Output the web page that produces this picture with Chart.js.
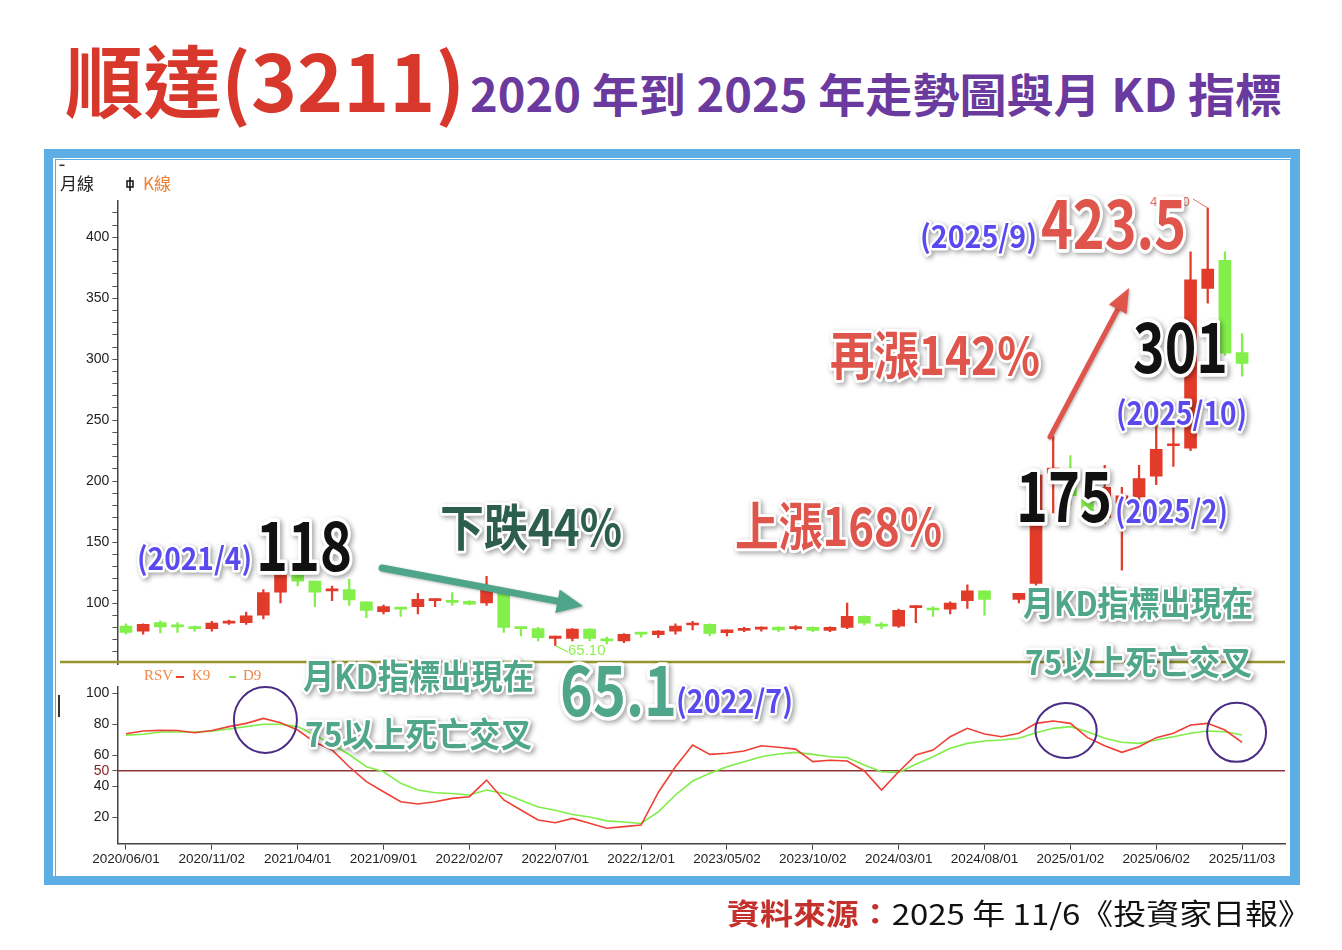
<!DOCTYPE html>
<html lang="zh-Hant">
<head>
<meta charset="utf-8">
<title>順達(3211) 2020 年到 2025 年走勢圖與月 KD 指標</title>
<script src="https://cdn.jsdelivr.net/npm/chart.js@4.4.1/dist/chart.umd.min.js"></script>
<style>
    html, body { margin: 0; padding: 0; background: #fff; }
    body { width: 1342px; height: 950px; position: relative; overflow: hidden; font-family: 'Noto Sans CJK TC', 'Noto Sans', sans-serif; }
    .txt { position: absolute; left: 0; top: 0; white-space: nowrap; line-height: 1; transform-origin: 0 0; }
    #title1 { font-size: 78px; font-weight: 700; color: #d8382b; }
    #title2 { font-size: 46px; font-weight: 700; color: #6b3a9e; }
    #source { font-size: 29px; font-weight: 400; color: #111; }
    #source b { color: #c4302b; font-weight: 700; }
    .frame { position: absolute; left: 44px; top: 149px; width: 1256px; height: 736px; box-sizing: border-box; border: 9px solid #5eaee6; }
    .frame-in { position: absolute; left: 54.5px; top: 158.5px; width: 1236px; height: 718px; box-sizing: border-box; border: 1.5px solid #5eaee6; }
    canvas { position: absolute; left: 0; top: 0; }
</style>
</head>
<body>
<div id="title1" class="txt">順達(3211)</div>
<div id="title2" class="txt">2020 年到 2025 年走勢圖與月 KD 指標</div>
<div class="frame"></div>
<div class="frame-in"></div>
<canvas id="priceCanvas" width="1342" height="950"></canvas>
<canvas id="kdCanvas" width="1342" height="950"></canvas>
<div id="source" class="txt"><b>資料來源：</b>2025 年 11/6《投資家日報》</div>

<script>
// 月K線 2020/06 ~ 2025/11 (66 months), 2024/09 not drawn in the source picture
const open  = [81, 77, 84, 81.5, 80, 79, 83.5, 84, 90, 109,
               123, 118, 110, 111, 101, 93, 95.6, 97, 102, 101.5,
               101.5, 100, 109, 80, 79, 71, 71, 78.6, 69.6, 69,
               75.6, 74, 77, 82, 82.5, 75.6, 77.6, 78.6, 80.3, 79,
               80, 77.5, 80, 89, 82.5, 81, 96.2, 95.6, 95, 102,
               110, null, 103, 116, 206.5, 210, 185, 170, 182, 187,
               204, 229, 227, 358, 381, 305.5];
const high  = [83, 83, 85.5, 84, 81, 85, 86, 92.5, 111, 126,
               126, 118, 114, 119.5, 101, 98.4, 96, 108, 103.5, 108.5,
               102, 122, 110, 80, 80, 73, 79, 79, 72, 75,
               76, 77.5, 83, 85, 83, 78, 80, 80.5, 80.5, 81.5,
               80.5, 80.5, 100, 89.5, 84, 95, 98, 97, 101, 115,
               110, null, 108, 210, 236.5, 221, 190, 213, 195, 213,
               247, 248, 388, 424, 388, 321];
const low   = [74.5, 74.5, 75.5, 76, 77, 77, 82.5, 82.5, 87, 100,
               114, 97, 102, 98, 88, 91, 89, 91, 97, 98,
               98.5, 98, 76, 73, 69, 65.1, 69, 69, 66.5, 67.5,
               72, 71.5, 74.5, 78, 73, 73, 76.5, 77, 76.5, 78,
               76.5, 76.5, 79, 82, 79, 80, 84, 89, 91, 95.5,
               90, null, 100, 113, 174, 180, 170, 165, 127, 184,
               197, 212, 225, 346, 303, 286];
const close = [76, 82.5, 80.5, 80.5, 79, 83.6, 84.7, 89.6, 108.5, 123,
               118, 109, 111, 102.5, 94, 97, 95, 103, 103, 100.5,
               99, 111, 80, 79, 71.5, 73, 78.6, 71, 69, 74.3,
               74.5, 77, 81, 83, 75, 78, 79.2, 80.3, 78, 80.5,
               77.5, 80, 89, 83.5, 81, 94, 97.5, 94.3, 100, 110,
               103, null, 108, 205, 210.6, 188, 175, 195, 188, 202,
               226, 230.5, 365, 374, 305, 296.5];

// 月KD (K9 紅, D9 綠)
const kLine = [73.9, 75.7, 76.1, 76, 74.6, 76, 78.5, 80.6, 83.8, 81,
               76.3, 68.4, 63.4, 52.6, 43, 36.5, 30, 28.6, 30, 32.2,
               33.3, 44, 31.2, 24.7, 18.3, 16.5, 19.3, 16.1, 12.9, 14,
               15, 36, 52.6, 66.6, 60.6, 61.3, 62.8, 66.2, 65.2, 64,
               55.9, 56.8, 56.3, 49.9, 37.6, 49.4, 60.2, 63.4, 72, 77.4,
               73.7, 72, 74.2, 80.6, 82.1, 80.6, 71.4, 66.2, 61.9, 65.5,
               71.4, 74.2, 79.5, 80.6, 76.3, 68.4];
const dLine = [73, 73.6, 75, 75, 75, 75.6, 77, 78.5, 80, 80,
               78.5, 73, 67, 60.5, 52.6, 49.4, 41.9, 37.6, 35.8, 35.4,
               34.4, 37.6, 35.4, 31, 26.7, 24.5, 21.8, 20.2, 17.7, 17,
               16, 23.5, 34.4, 43.4, 48.4, 52.6, 55.9, 59.1, 60.8, 61.9,
               60.6, 59.1, 58.5, 53.7, 49.4, 49, 54.2, 59.1, 64.5, 67.7,
               69.2, 69.9, 71, 74.6, 77.4, 78.5, 75.2, 71, 68.4, 67.7,
               69.9, 72, 74.2, 75.7, 75.2, 73.1];

const tickDates  = ['2020/06/01', '2020/11/02', '2021/04/01', '2021/09/01', '2022/02/07', '2022/07/01', '2022/12/01',
                    '2023/05/02', '2023/10/02', '2024/03/01', '2024/08/01', '2025/01/02', '2025/06/02', '2025/11/03'];
const priceTicks = [60, 70, 80, 90, 100, 110, 120, 130, 140, 150, 160, 170, 180, 190, 200, 210, 220, 230, 240, 250,
                    260, 270, 280, 290, 300, 310, 320, 330, 340, 350, 360, 370, 380, 390, 400, 410, 420];
const kdTicks    = [20, 40, 50, 60, 80, 100];
const kdMid      = 50;

const UP = '#e23b2a', DOWN = '#82ef4a';
const CJK = "'Noto Sans CJK TC', 'Noto Sans', sans-serif";
const AXISFONT = "'Liberation Sans', sans-serif";
const PURPLE = '#5a49ee', TEAL = '#4fa68b', RED = '#e0554b', INK = '#111', DKGREEN = '#2d5e4c';

const candleIdx = open.map((o, i) => i).filter(i => open[i] !== null);
const candleColor = ctx => (ctx.raw && close[ctx.raw.x] < open[ctx.raw.x]) ? DOWN : UP;

function placeText(id, left, baseline, width) {
    const el = document.getElementById(id);
    const probe = document.createElement('span');
    probe.style.cssText = 'display:inline-block;width:0;height:0;';
    el.appendChild(probe);
    el.style.left = left + 'px';
    const base = probe.getBoundingClientRect().top;
    el.style.top = (baseline - base) + 'px';
    const w = el.getBoundingClientRect().width;
    el.style.transform = `scaleX(${width / w})`;
}

function label(ctx, text, x1, x2, cy, size, color) {
    ctx.save();
    ctx.font = `bold ${size}px ${CJK}`;
    const w = ctx.measureText(text).width;
    ctx.translate(x1, cy);
    ctx.scale((x2 - x1) / w, 1);
    ctx.textBaseline = 'middle';
    ctx.lineJoin = 'round';
    ctx.shadowColor = 'rgba(0,0,0,0.38)';
    ctx.shadowBlur = 5; ctx.shadowOffsetX = 2; ctx.shadowOffsetY = 2;
    ctx.strokeStyle = '#fff';
    ctx.lineWidth = Math.max(5, size * 0.11);
    ctx.strokeText(text, 0, 0);
    ctx.shadowColor = 'transparent';
    ctx.fillStyle = color;
    ctx.fillText(text, 0, 0);
    ctx.restore();
}

function arrow(ctx, x1, y1, x2, y2, color, lw, headLen, headHalf) {
    const a = Math.atan2(y2 - y1, x2 - x1);
    const bx = x2 - headLen * Math.cos(a), by = y2 - headLen * Math.sin(a);
    ctx.save();
    ctx.shadowColor = 'rgba(0,0,0,0.3)'; ctx.shadowBlur = 3; ctx.shadowOffsetX = 1; ctx.shadowOffsetY = 1;
    ctx.strokeStyle = color; ctx.fillStyle = color; ctx.lineWidth = lw; ctx.lineCap = 'round';
    ctx.beginPath(); ctx.moveTo(x1, y1); ctx.lineTo(bx, by); ctx.stroke();
    ctx.beginPath();
    ctx.moveTo(x2, y2);
    ctx.lineTo(bx + headHalf * Math.sin(a), by - headHalf * Math.cos(a));
    ctx.lineTo(bx - headHalf * Math.sin(a), by + headHalf * Math.cos(a));
    ctx.closePath(); ctx.fill();
    ctx.restore();
}

const priceChart = new Chart(document.getElementById('priceCanvas'), {
    type: 'bar',
    data: {
        datasets: [
            { data: candleIdx.map(i => ({ x: i, y: [low[i], high[i]] })), backgroundColor: candleColor, barThickness: 1.6, grouped: false, order: 2 },
            { data: candleIdx.map(i => ({ x: i, y: [Math.min(open[i], close[i]), Math.max(open[i], close[i])] })), backgroundColor: candleColor, barThickness: 12, minBarLength: 2, grouped: false, order: 1 }
        ]
    },
    options: {
        responsive: false, animation: false,
        layout: { padding: { left: 60, right: 57, top: 200.7, bottom: 286 } },
        plugins: { legend: { display: false }, tooltip: { enabled: false } },
        scales: {
            x: { type: 'linear', min: -0.5, max: 67.5, offset: false, display: false, grid: { offset: false } },
            y: {
                min: 50, max: 430,
                afterFit: s => { s.width = 57.4; },
                afterBuildTicks: s => { s.ticks = priceTicks.map(v => ({ value: v })); },
                ticks: { callback: v => (v % 50 === 0 ? v : ''), font: { family: AXISFONT, size: 14 }, color: '#222', padding: 3, autoSkip: false },
                grid: { drawOnChartArea: false, tickLength: 5, color: '#555' },
                border: { color: '#444', width: 1.5 }
            }
        }
    }
});

const kdDecor = {
    id: 'kdDecor',
    beforeDatasetsDraw(chart) {
        const { ctx, chartArea, scales } = chart;
        const y = scales.y.getPixelForValue(kdMid);
        ctx.save();
        ctx.strokeStyle = '#8e3434'; ctx.lineWidth = 1.6;
        ctx.beginPath(); ctx.moveTo(chartArea.left, y); ctx.lineTo(chartArea.right, y); ctx.stroke();
        ctx.restore();
    },
    afterDraw(chart) {
        const { ctx, scales } = chart;
        const px = priceChart.scales.x, py = priceChart.scales.y;
        ctx.save();

        // panel divider
        ctx.strokeStyle = '#96962a'; ctx.lineWidth = 2.5;
        ctx.beginPath(); ctx.moveTo(60, 662); ctx.lineTo(1285, 662); ctx.stroke();
        ctx.fillStyle = '#333';
        ctx.fillRect(59.5, 164.5, 5, 1.6);
        ctx.fillRect(58, 695, 2, 22);

        // legends
        ctx.textBaseline = 'middle';
        ctx.font = `17px ${CJK}`; ctx.fillStyle = '#222';
        ctx.fillText('月線', 60, 184);
        ctx.strokeStyle = '#111'; ctx.lineWidth = 1.5;
        ctx.strokeRect(127, 181, 6, 6);
        ctx.beginPath(); ctx.moveTo(130, 177); ctx.lineTo(130, 191); ctx.stroke();
        ctx.fillStyle = '#ef7f2f';
        ctx.fillText('K線', 143, 184);

        ctx.font = "15px 'Liberation Serif', serif"; ctx.fillStyle = '#f0884a';
        ctx.fillText('RSV', 144, 676);
        ctx.fillText('K9', 192, 676);
        ctx.fillText('D9', 243, 676);
        ctx.lineWidth = 2;
        ctx.strokeStyle = '#e84030'; ctx.beginPath(); ctx.moveTo(176, 677); ctx.lineTo(184, 677); ctx.stroke();
        ctx.strokeStyle = '#7fee48'; ctx.beginPath(); ctx.moveTo(229, 677); ctx.lineTo(236, 677); ctx.stroke();

        // KD circles
        ctx.strokeStyle = '#4b2c85'; ctx.lineWidth = 2;
        [[8.12, 82.8, 31.5, 33], [54.75, 76, 30.6, 27.5], [64.68, 74.8, 29.5, 29.5]].forEach(([i, v, rx, ry]) => {
            ctx.beginPath();
            ctx.ellipse(scales.x.getPixelForValue(i), scales.y.getPixelForValue(v), rx, ry, 0, 0, Math.PI * 2);
            ctx.stroke();
        });

        // high / low markers
        ctx.lineWidth = 1.2; ctx.strokeStyle = '#8ef050';
        ctx.beginPath(); ctx.moveTo(px.getPixelForValue(25), py.getPixelForValue(low[25])); ctx.lineTo(568, 652); ctx.stroke();
        ctx.font = `15px ${AXISFONT}`; ctx.fillStyle = '#8ef050';
        ctx.fillText('65.10', 568, 651);
        ctx.strokeStyle = '#e86a5a'; ctx.lineWidth = 1;
        ctx.beginPath(); ctx.moveTo(1193, 199); ctx.lineTo(px.getPixelForValue(63), py.getPixelForValue(high[63])); ctx.stroke();
        ctx.font = `13px ${AXISFONT}`; ctx.fillStyle = '#e86a5a';
        ctx.fillText('423.50', 1150, 202);
        ctx.restore();

        // arrows
        arrow(ctx, 382, 568, 583, 606, '#4fa58a', 7, 26, 12);
        arrow(ctx, 1050, 437, 1129, 288, RED, 5, 24, 10);

        // text notes
        [
            ['(2021/4)', 137, 252, 558, 31, PURPLE],
            ['118', 256, 352, 546, 66, INK],
            ['下跌44%', 440, 622, 527, 50, DKGREEN],
            ['上漲168%', 735, 942, 526, 52, RED],
            ['再漲142%', 830, 1040, 355, 52, RED],
            ['(2025/9)', 920, 1037, 236, 31, PURPLE],
            ['423.5', 1041, 1186, 224, 66, RED],
            ['301', 1133, 1228, 347, 68, INK],
            ['(2025/10)', 1116, 1247, 413, 32, PURPLE],
            ['175', 1016, 1112, 496, 68, INK],
            ['(2025/2)', 1115, 1228, 511, 32, PURPLE],
            ['月KD指標出現在', 1023, 1253, 603, 34, TEAL],
            ['75以上死亡交叉', 1025, 1252, 662, 34, TEAL],
            ['月KD指標出現在', 303, 534, 676, 34, TEAL],
            ['75以上死亡交叉', 305, 532, 734, 34, TEAL],
            ['65.1', 560, 677, 690, 68, TEAL],
            ['(2022/7)', 676, 793, 701, 32, PURPLE]
        ].forEach(n => label(ctx, ...n));
    }
};

new Chart(document.getElementById('kdCanvas'), {
    type: 'line',
    data: {
        datasets: [
            { label: 'K9', data: kLine.map((v, i) => ({ x: i, y: v })), borderColor: '#ef4036', borderWidth: 1.6, pointRadius: 0 },
            { label: 'D9', data: dLine.map((v, i) => ({ x: i, y: v })), borderColor: '#7fee48', borderWidth: 1.6, pointRadius: 0 }
        ]
    },
    options: {
        responsive: false, animation: false,
        layout: { padding: { left: 60, right: 57, top: 687.1, bottom: 76.35 } },
        plugins: { legend: { display: false }, tooltip: { enabled: false } },
        scales: {
            x: {
                type: 'linear', min: -0.5, max: 67.5,
                afterFit: s => { s.height = 30; },
                afterBuildTicks: s => { s.ticks = tickDates.map((d, k) => ({ value: k * 5 })); },
                ticks: { callback: (v, idx) => tickDates[idx], autoSkip: false, maxRotation: 0, font: { family: AXISFONT, size: 13.5 }, color: '#222', padding: 2 },
                grid: { drawOnChartArea: false, tickLength: 6, color: '#444' },
                border: { color: '#444', width: 1.5 }
            },
            y: {
                min: 3, max: 104,
                afterFit: s => { s.width = 57.4; },
                afterBuildTicks: s => { s.ticks = kdTicks.map(v => ({ value: v })); },
                ticks: { font: { family: AXISFONT, size: 14 }, color: c => (c.tick && c.tick.value === kdMid ? '#8a2424' : '#222'), padding: 3, autoSkip: false },
                grid: { drawOnChartArea: false, tickLength: 5, color: '#555' },
                border: { color: '#444', width: 1.5 }
            }
        }
    },
    plugins: [kdDecor]
});

placeText('title1', 65, 112, 400);
placeText('title2', 470, 112, 812);
placeText('source', 727, 925, 584);
</script>
</body>
</html>
